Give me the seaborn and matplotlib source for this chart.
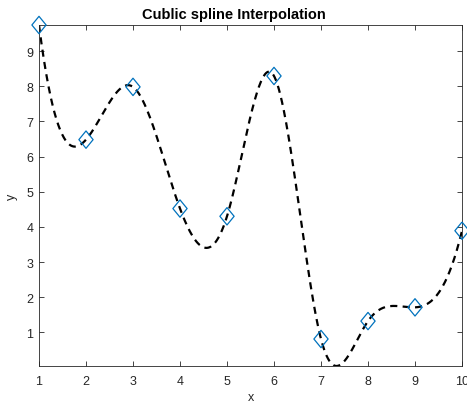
import numpy as np
import matplotlib
matplotlib.use("Agg")
import matplotlib.pyplot as plt
from matplotlib.path import Path
import seaborn as sns

# data
x_pts = [1, 2, 3, 4, 5, 6, 7, 8, 9, 10]
y_pts = [9.74, 6.48, 7.98, 4.52, 4.30, 8.29, 0.81, 1.32, 1.71, 3.89]
x_ticks = [1, 2, 3, 4, 5, 6, 7, 8, 9, 10]
y_ticks = [1, 2, 3, 4, 5, 6, 7, 8, 9]
title = "Cublic spline Interpolation"


def not_a_knot_spline(x, y, xx):
    x = np.asarray(x, float)
    y = np.asarray(y, float)
    n = len(x)
    h = np.diff(x)
    A = np.zeros((n, n))
    b = np.zeros(n)
    A[0, 0] = h[1]
    A[0, 1] = -(h[0] + h[1])
    A[0, 2] = h[0]
    for i in range(1, n - 1):
        A[i, i - 1] = h[i - 1]
        A[i, i] = 2 * (h[i - 1] + h[i])
        A[i, i + 1] = h[i]
        b[i] = 6 * ((y[i + 1] - y[i]) / h[i] - (y[i] - y[i - 1]) / h[i - 1])
    A[n - 1, n - 3] = h[n - 2]
    A[n - 1, n - 2] = -(h[n - 3] + h[n - 2])
    A[n - 1, n - 1] = h[n - 3]
    M = np.linalg.solve(A, b)
    idx = np.clip(np.searchsorted(x, xx) - 1, 0, n - 2)
    xi, xj = x[idx], x[idx + 1]
    hi = h[idx]
    Mi, Mj = M[idx], M[idx + 1]
    yi, yj = y[idx], y[idx + 1]
    return (Mi * (xj - xx) ** 3 / (6 * hi) + Mj * (xx - xi) ** 3 / (6 * hi)
            + (yi / hi - Mi * hi / 6) * (xj - xx) + (yj / hi - Mj * hi / 6) * (xx - xi))


xx = np.linspace(x_pts[0], x_pts[-1], 901)
yy = not_a_knot_spline(x_pts, y_pts, xx)

sns.set_theme(style="white")
plt.rcParams['font.family'] = ['Liberation Sans', 'DejaVu Sans']

fig = plt.figure(figsize=(4.67, 4.02), dpi=100)
ax = fig.add_axes([39 / 467, 1 - 367 / 402, (462 - 39) / 467, (367 - 26) / 402])

sns.lineplot(x=xx, y=yy, ax=ax, color='black', linewidth=1.6, linestyle='--')
ax.lines[0].set_dashes((3.2, 2.4))

diamond = Path([(0, 1), (0.82, 0), (0, -1), (-0.82, 0), (0, 1)],
               [Path.MOVETO, Path.LINETO, Path.LINETO, Path.LINETO, Path.CLOSEPOLY])
sns.scatterplot(x=x_pts, y=y_pts, ax=ax, marker=diamond, s=12.5 ** 2,
                facecolor='none', edgecolor='#0072BD', linewidth=0.9, zorder=3,
                clip_on=False)

ax.set_xlim(1, 10)
ax.set_ylim(min(yy.min(), min(y_pts)), max(yy.max(), max(y_pts)))
ax.set_xticks(x_ticks)
ax.set_yticks(y_ticks)

dark = (0.15, 0.15, 0.15)
for sp in ax.spines.values():
    sp.set_visible(True)
    sp.set_color(dark)
    sp.set_linewidth(0.6)
ax.tick_params(direction='in', length=3.5, width=0.6, color=dark, labelcolor=dark,
               labelsize=9, top=True, right=True, bottom=True, left=True)
ax.tick_params(axis='x', pad=6.2)
ax.tick_params(axis='y', pad=4)
ax.set_title(title, fontsize=10.5, fontweight='bold', color='black', pad=5,
             x=(233.5 - 39) / 423)
ax.set_xlabel('x', fontsize=9, color=dark, labelpad=3.5)
ax.set_ylabel('y', fontsize=9, color=dark, labelpad=6)
ax.grid(False)

fig.savefig('out.png', dpi=100)
